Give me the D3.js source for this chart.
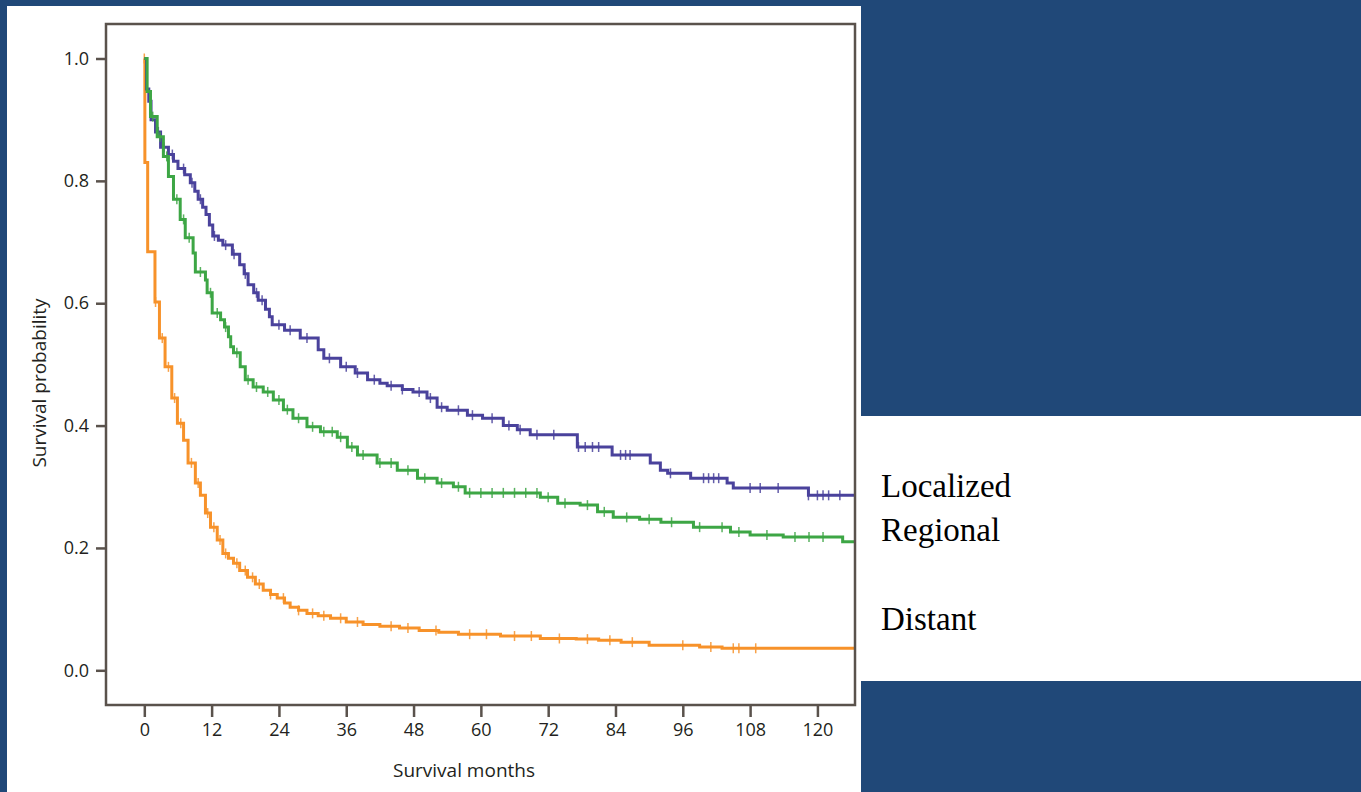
<!DOCTYPE html>
<html>
<head>
<meta charset="utf-8">
<script src="https://cdn.jsdelivr.net/npm/d3@7"></script>
<style>
  html, body { margin: 0; padding: 0; background: #204878; }
  svg { display: block; }
</style>
</head>
<body>
<svg id="chart" width="1361" height="792"></svg>
<script>
// ---------- data ----------
const seriesNames = ["Localized", "Regional", "Distant"];
const xTicks = [0, 12, 24, 36, 48, 60, 72, 84, 96, 108, 120];
const yTicks = [0.0, 0.2, 0.4, 0.6, 0.8, 1.0];
const followUpEnd = 126.7;

// Kaplan-Meier steps: [month, survival after drop]
const localizedSteps = [
  [0, 1.0], [0.4, 0.95], [0.8, 0.93], [1.2, 0.90], [2.0, 0.88], [2.9, 0.855], [4.3, 0.843],
  [5.2, 0.832], [6.0, 0.82], [7.2, 0.81], [8.2, 0.797], [9.0, 0.783], [9.6, 0.77], [10.4, 0.757], [11.0, 0.745],
  [11.6, 0.728], [12.2, 0.71], [13.2, 0.703], [14.0, 0.695], [15.7, 0.68], [17.0, 0.663],
  [17.8, 0.648], [18.5, 0.63], [19.5, 0.617], [20.3, 0.605], [21.6, 0.59], [22.3, 0.578], [22.8, 0.565],
  [25.0, 0.556], [27.8, 0.543], [31.0, 0.524], [32.0, 0.51], [35.0, 0.496], [37.6, 0.486],
  [39.8, 0.475], [42.0, 0.469], [43.3, 0.465], [46.0, 0.459], [47.9, 0.455], [50.4, 0.445], [52.2, 0.43],
  [54.0, 0.425], [57.6, 0.417], [60.3, 0.412], [64.0, 0.40], [66.5, 0.393], [68.8, 0.385],
  [77.2, 0.365], [83.4, 0.352], [90.2, 0.339], [92.0, 0.327], [93.3, 0.322], [97.4, 0.314],
  [103.9, 0.306], [105.0, 0.298], [118.4, 0.286]
];
const regionalSteps = [
  [0, 1.0], [0.5, 0.946], [1.1, 0.905], [2.3, 0.872], [3.4, 0.84], [4.3, 0.807], [5.2, 0.77],
  [6.4, 0.737], [7.3, 0.707], [8.7, 0.682], [9.1, 0.651], [10.9, 0.638], [11.2, 0.617],
  [12.1, 0.584], [13.6, 0.573], [14.3, 0.561], [15.0, 0.545], [15.4, 0.529], [15.9, 0.519],
  [17.1, 0.496], [18.0, 0.475], [19.4, 0.463], [21.2, 0.455], [23.0, 0.442], [24.8, 0.426],
  [26.5, 0.412], [29.0, 0.398], [31.4, 0.39], [34.4, 0.381], [36.2, 0.365], [38.0, 0.352],
  [41.5, 0.339], [45.1, 0.327], [48.7, 0.314], [52.2, 0.306], [55.1, 0.30], [57.2, 0.29],
  [70.6, 0.283], [73.7, 0.273], [77.7, 0.27], [80.8, 0.259], [83.6, 0.25], [88.3, 0.247],
  [92.1, 0.242], [97.9, 0.234], [104.5, 0.226], [108.0, 0.221], [113.9, 0.218], [124.5, 0.21]
];
const distantSteps = [
  [0, 1.0], [0.1, 0.83], [0.6, 0.684], [1.9, 0.602], [2.7, 0.543], [3.7, 0.496], [4.9, 0.445],
  [5.9, 0.404], [7.0, 0.376], [7.8, 0.339], [9.1, 0.306], [10.0, 0.286], [10.9, 0.257],
  [11.8, 0.234], [13.0, 0.213], [14.0, 0.191], [15.0, 0.183], [15.9, 0.175], [17.0, 0.163], [18.4, 0.152],
  [19.8, 0.141], [21.2, 0.131], [22.5, 0.124], [23.7, 0.118], [25.0, 0.11], [26.0, 0.103], [27.5, 0.098], [29.0, 0.093], [31.0, 0.089], [33.2, 0.085],
  [36.0, 0.079], [39.0, 0.075], [42.0, 0.072], [45.5, 0.069], [49.0, 0.065], [52.5, 0.062], [56.0, 0.059], [63.5, 0.056], [70.6, 0.052],
  [77.0, 0.051], [81.0, 0.049], [85.0, 0.046], [90.0, 0.041], [99.0, 0.038], [103.0, 0.036]
];

// censored observation times (tick marks)
const localizedCensor = [1, 2.5, 3.5, 5, 7, 8.5, 10, 12.5, 14.5, 16, 18, 20, 21, 24, 26, 29, 33, 36, 38, 41, 44, 46, 49, 51, 53, 56, 58.5, 62, 65, 67, 70, 73, 77.4, 78.6, 79.9, 81, 84.9, 85.8, 86.6, 93.8, 99.7, 100.6, 101.5, 102.4, 108, 109.8, 113, 118.4, 120, 121, 122, 124];
const regionalCensor = [1.5, 2.8, 4, 5.8, 7, 8, 10, 11.8, 13, 14.5, 16.5, 18.5, 20, 22, 24, 25.5, 27.5, 30, 32, 33.5, 35, 37, 39, 42, 44, 47, 50, 53, 56, 58, 60, 62, 64, 66, 68, 70, 72, 75, 79, 82, 86, 90, 94, 99, 103, 106, 111, 116, 118.5, 121];
const distantCensor = [0, 2, 3.2, 4.3, 5.4, 6.5, 8.4, 9.6, 11.3, 12.4, 13.5, 14.5, 16.5, 18, 19.3, 20.5, 22.5, 24.8, 27.5, 30, 32, 35, 38, 44, 47, 52, 58, 61, 66, 69, 74, 79, 83, 87, 96, 101, 105, 106, 109];

const colors = ["#4a429c", "#3da645", "#f7922a"];

// ---------- layout ----------
const svg = d3.select("#chart");
svg.append("rect").attr("x", 0).attr("y", 0).attr("width", 1361).attr("height", 792).attr("fill", "#204878");
svg.append("rect").attr("x", 7).attr("y", 6).attr("width", 854).attr("height", 786).attr("fill", "#ffffff");
svg.append("rect").attr("x", 861).attr("y", 416).attr("width", 500).attr("height", 265).attr("fill", "#ffffff");

const frame = { left: 106, right: 855, top: 24, bottom: 705 };
const x = d3.scaleLinear().domain([-6.83, 126.7]).range([frame.left, frame.right]);
const y = d3.scaleLinear().domain([0, 1]).range([670.3, 58.5]);

const axisColor = "#5a524c";
const textColor = "#231f20";
const tickFont = "'Open Sans', 'Noto Sans', sans-serif";

// clip
svg.append("clipPath").attr("id", "clip").append("rect")
  .attr("x", frame.left).attr("y", frame.top)
  .attr("width", frame.right - frame.left).attr("height", frame.bottom - frame.top);

// curves
const seriesSteps = [localizedSteps, regionalSteps, distantSteps];
const seriesCensor = [localizedCensor, regionalCensor, distantCensor];

function survivalAt(steps, t) {
  let s = steps[0][1];
  for (const [tt, v] of steps) { if (tt <= t) s = v; else break; }
  return s;
}

const line = d3.line().x(d => x(d[0])).y(d => y(d[1])).curve(d3.curveStepAfter);
const plot = svg.append("g").attr("clip-path", "url(#clip)");

[2, 0, 1].forEach(i => {
  const steps = seriesSteps[i];
  const pts = steps.concat([[followUpEnd, steps[steps.length - 1][1]]]);
  const g = plot.append("g");
  g.append("path").datum(pts)
    .attr("fill", "none").attr("stroke", colors[i]).attr("stroke-width", 3)
    .attr("stroke-linejoin", "miter")
    .attr("d", line);
  g.selectAll("line.c").data(seriesCensor[i]).enter().append("line")
    .attr("x1", d => x(d)).attr("x2", d => x(d))
    .attr("y1", d => y(survivalAt(steps, d)) - 5)
    .attr("y2", d => y(survivalAt(steps, d)) + 5)
    .attr("stroke", colors[i]).attr("stroke-width", 1.5).attr("opacity", 0.85);
});

// frame
svg.append("rect")
  .attr("x", frame.left).attr("y", frame.top)
  .attr("width", frame.right - frame.left).attr("height", frame.bottom - frame.top)
  .attr("fill", "none").attr("stroke", axisColor).attr("stroke-width", 2.5);

// x axis
const xAxis = d3.axisBottom(x).tickValues(xTicks).tickSize(12).tickPadding(6).tickFormat(d3.format("d"));
const gx = svg.append("g").attr("transform", `translate(0,${frame.bottom})`).call(xAxis);
gx.select(".domain").remove();
gx.selectAll(".tick line").attr("stroke", axisColor).attr("stroke-width", 2.5);
gx.selectAll(".tick text").attr("fill", textColor).style("font-family", tickFont).style("font-size", "18px").style("font-weight", 500);

// y axis
const yAxis = d3.axisLeft(y).tickValues(yTicks).tickSize(10).tickPadding(7).tickFormat(d3.format(".1f"));
const gy = svg.append("g").attr("transform", `translate(${frame.left},0)`).call(yAxis);
gy.select(".domain").remove();
gy.selectAll(".tick line").attr("stroke", axisColor).attr("stroke-width", 2.5);
gy.selectAll(".tick text").attr("fill", textColor).style("font-family", tickFont).style("font-size", "18px").style("font-weight", 500);

// axis titles
svg.append("text").attr("x", 464).attr("y", 777).attr("text-anchor", "middle")
  .attr("fill", textColor).style("font-family", tickFont).style("font-size", "19px").style("font-weight", 500)
  .text("Survival months");
svg.append("text").attr("transform", "translate(46,383) rotate(-90)").attr("text-anchor", "middle")
  .attr("fill", textColor).style("font-family", tickFont).style("font-size", "19px").style("font-weight", 500)
  .text("Survival probability");

// legend text
const legendY = [497, 541, 630];
seriesNames.forEach((n, i) => {
  svg.append("text").attr("x", 881).attr("y", legendY[i])
    .attr("fill", "#000").style("font-family", "'Liberation Serif', 'Times New Roman', serif")
    .style("font-size", "33px").text(n);
});
</script>
</body>
</html>
